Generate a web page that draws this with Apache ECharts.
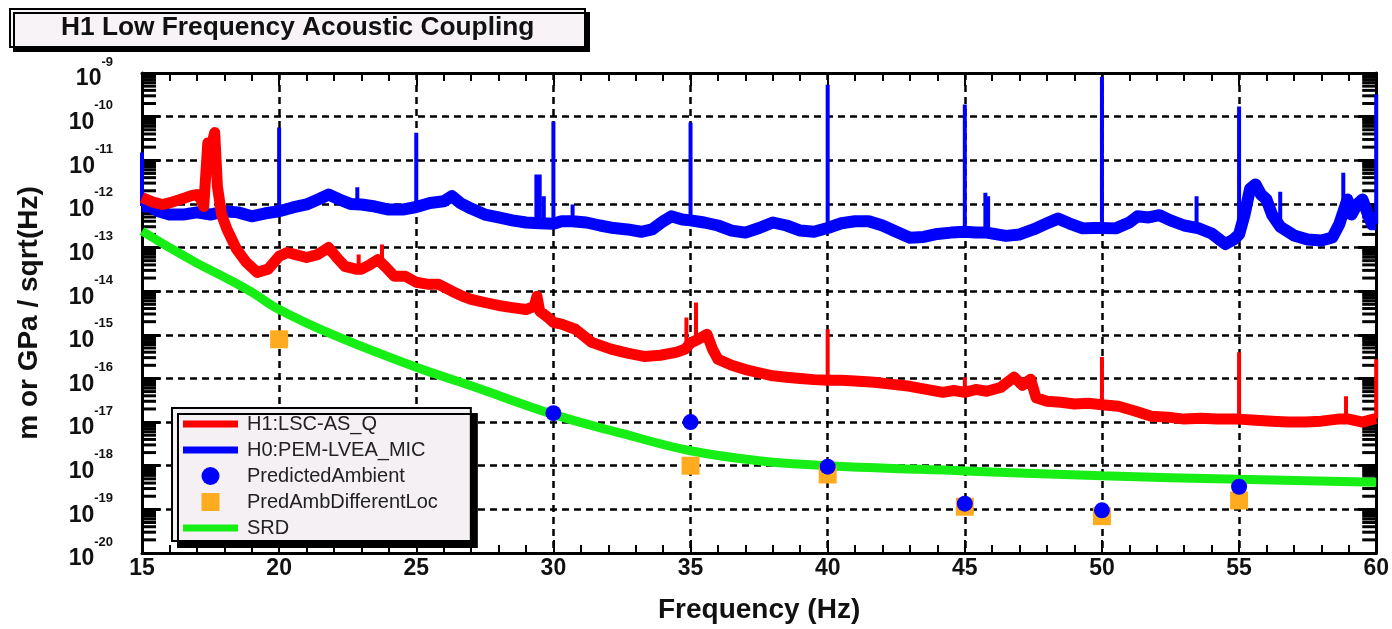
<!DOCTYPE html>
<html>
<head>
<meta charset="utf-8">
<script src="https://cdn.jsdelivr.net/npm/echarts@6/dist/echarts.min.js"></script>
<style>
  html, body { margin: 0; padding: 0; background: #ffffff; }
  #chart { width: 1392px; height: 629px; }
</style>
</head>
<body>
<div id="chart"></div>
<script>
// Frequency range (Hz) and x tick step
const freqMin = 15;
const freqMax = 60;
const freqStep = 5;

// Log axis range: decades from 1e-20 to 1e-9
const yDecades = [-20, -19, -18, -17, -16, -15, -14, -13, -12, -11, -10, -9];
const yMinorSteps = [2, 3, 4, 5, 6, 7, 8, 9];

// H0:PEM-LVEA_MIC microphone spectrum, broadband part [Hz, value]
const micBand = [
  [15.0, 9.0e-13], [15.3, 8.7e-13], [15.6, 6.8e-13], [16.0, 5.7e-13],
  [16.5, 5.7e-13], [17.0, 6.4e-13], [17.5, 5.7e-13], [18.0, 6.8e-13], [18.5, 6.4e-13],
  [19.0, 5.2e-13], [19.5, 6.1e-13], [20.0, 6.8e-13],
  [20.5, 8.3e-13], [21.0, 9.7e-13], [21.5, 1.33e-12], [21.8, 1.64e-12], [22.2, 1.26e-12],
  [22.6, 1.0e-12], [23.0, 9.7e-13], [23.5, 8.7e-13], [24.0, 7.4e-13],
  [24.5, 7.4e-13], [25.0, 8.5e-13], [25.5, 1.05e-12],
  [26.0, 1.15e-12], [26.3, 1.5e-12], [26.6, 1.05e-12], [27.0, 7.8e-13], [27.5, 5.7e-13],
  [28.0, 4.9e-13], [28.5, 4.2e-13], [29.0, 3.75e-13], [29.5, 3.6e-13], [30.0, 3.5e-13],
  [30.3, 4.0e-13], [30.7, 4.0e-13], [31.2, 3.75e-13], [31.7, 3.2e-13], [32.2, 2.8e-13],
  [32.7, 2.6e-13], [33.2, 2.3e-13], [33.6, 2.6e-13], [34.0, 4.0e-13], [34.3, 5.2e-13],
  [34.7, 4.4e-13], [35.0, 4.2e-13], [35.5, 3.75e-13], [36.0, 3.2e-13],
  [36.5, 2.45e-13], [37.0, 2.2e-13], [37.5, 2.8e-13], [38.0, 3.75e-13], [38.5, 3.2e-13],
  [39.0, 2.45e-13], [39.5, 2.3e-13], [40.0, 2.8e-13],
  [40.5, 3.6e-13], [41.0, 4.0e-13], [41.5, 4.0e-13], [42.0, 3.2e-13], [42.5, 2.3e-13],
  [43.0, 1.67e-13], [43.5, 1.75e-13], [44.0, 2.05e-13], [44.5, 2.2e-13], [45.0, 2.3e-13],
  [45.4, 2.2e-13], [45.8, 2.2e-13], [46.5, 1.85e-13], [47.0, 2.0e-13], [47.5, 2.6e-13],
  [48.0, 3.6e-13], [48.4, 4.6e-13], [48.8, 3.6e-13], [49.3, 2.75e-13], [49.7, 2.8e-13],
  [50.0, 2.8e-13], [50.5, 2.75e-13], [51.0, 3.75e-13],
  [51.3, 5.2e-13], [51.7, 4.9e-13], [52.1, 5.5e-13], [52.5, 4.2e-13], [53.0, 3.2e-13],
  [53.5, 2.8e-13], [54.0, 2.1e-13], [54.5, 1.2e-13],
  [54.8, 1.53e-13], [55.0, 2.0e-13], [55.2, 5.7e-13],
  [55.4, 2.2e-12], [55.6, 2.8e-12], [55.8, 1.64e-12], [56.0, 1.26e-12], [56.2, 5.7e-13],
  [56.5, 3.0e-13], [57.0, 1.9e-13], [57.5, 1.53e-13],
  [58.0, 1.45e-13], [58.4, 1.7e-13], [58.65, 3.4e-13], [58.95, 1.26e-12],
  [59.1, 5.7e-13], [59.3, 9.7e-13], [59.5, 1.26e-12], [59.7, 5.7e-13], [59.85, 3.4e-13],
  [60.0, 3.4e-13]
];

// H0:PEM-LVEA_MIC narrow lines [Hz, peak, base]
const micLines = [
  [15.0, 1.5e-11, 9.0e-13], [20.0, 5.6e-11, 6.8e-13], [22.85, 2.4e-12, 1.0e-12],
  [25.0, 4.3e-11, 8.5e-13], [29.38, 4.7e-12, 3.75e-13], [29.5, 4.7e-12, 3.6e-13],
  [29.65, 1.5e-12, 3.5e-13], [30.0, 7.7e-11, 3.5e-13], [30.7, 9.7e-13, 4.0e-13],
  [35.0, 7.3e-11, 4.2e-13], [40.0, 5.4e-10, 2.8e-13], [45.0, 1.9e-10, 2.3e-13],
  [45.75, 1.8e-12, 2.2e-13], [45.85, 1.5e-12, 2.2e-13], [50.0, 8.2e-10, 2.8e-13],
  [53.45, 1.5e-12, 2.8e-13], [55.0, 1.7e-10, 2.0e-13], [56.5, 1.9e-12, 3.0e-13],
  [58.8, 5.2e-12, 3.4e-13], [60.0, 3.2e-10, 3.4e-13]
];

// H1:LSC-AS_Q strain channel spectrum, broadband part [Hz, value]
const asqBand = [
  [15.0, 1.4e-12], [15.4, 1.1e-12], [15.75, 9.7e-13], [16.1, 1.1e-12], [16.4, 1.26e-12],
  [16.8, 1.55e-12], [17.0, 1.64e-12], [17.15, 1.26e-12], [17.25, 8.7e-13], [17.4, 2.5e-11],
  [17.5, 1.75e-11], [17.65, 4.3e-11], [17.75, 2.5e-12], [17.9, 5.7e-13], [18.1, 2.6e-13],
  [18.45, 9.1e-14], [18.8, 4.6e-14], [19.2, 2.7e-14], [19.6, 3.2e-14], [20.0, 6.3e-14],
  [20.3, 7.7e-14], [20.6, 6.9e-14], [21.0, 5.9e-14], [21.4, 6.9e-14], [21.8, 1.0e-13],
  [22.1, 5.9e-14], [22.4, 3.7e-14], [22.8, 3.2e-14], [23.0, 3.2e-14],
  [23.3, 4.0e-14], [23.6, 5.3e-14], [23.9, 3.5e-14], [24.2, 2.2e-14],
  [24.6, 2.2e-14], [25.0, 1.6e-14], [25.4, 1.45e-14], [25.8, 1.45e-14], [26.3, 1.0e-14],
  [26.7, 7.6e-15], [27.0, 6.5e-15], [27.5, 5.5e-15], [28.0, 4.7e-15], [28.5, 4.2e-15],
  [29.0, 3.8e-15], [29.3, 4.5e-15], [29.4, 7.6e-15], [29.5, 3.5e-15], [29.8, 2.5e-15],
  [30.0, 1.93e-15], [30.3, 1.75e-15], [30.8, 1.34e-15], [31.4, 6.7e-16], [32.1, 4.7e-16],
  [32.7, 3.8e-16], [33.3, 3.2e-16], [33.9, 3.4e-16], [34.5, 4.0e-16], [34.8, 4.7e-16],
  [35.0, 6.5e-16], [35.3, 8.0e-16], [35.6, 1.03e-15], [35.8, 4.7e-16], [36.0, 2.75e-16],
  [36.5, 2.0e-16], [37.0, 1.6e-16], [37.5, 1.35e-16], [38.0, 1.15e-16], [38.5, 1.07e-16],
  [39.0, 1.0e-16], [39.5, 9.4e-17], [40.0, 9.1e-17], [40.5, 9.1e-17],
  [41.0, 8.7e-17], [41.7, 8.2e-17], [42.3, 7.4e-17], [43.0, 6.6e-17], [43.6, 5.6e-17],
  [44.2, 4.8e-17], [44.6, 5.3e-17], [45.0, 4.8e-17],
  [45.4, 5.6e-17], [45.8, 5.1e-17], [46.3, 6.2e-17], [46.8, 1.07e-16], [47.1, 7.0e-17],
  [47.4, 9.6e-17], [47.6, 3.6e-17], [48.0, 3.0e-17], [48.5, 2.85e-17], [49.0, 2.6e-17],
  [49.5, 2.7e-17], [50.0, 2.5e-17], [50.6, 2.3e-17],
  [51.2, 1.8e-17], [51.8, 1.36e-17], [52.4, 1.3e-17], [53.0, 1.17e-17], [53.6, 1.22e-17],
  [54.2, 1.17e-17], [55.0, 1.17e-17], [55.6, 1.1e-17],
  [56.2, 1.05e-17], [56.8, 1.0e-17], [57.4, 1.0e-17], [58.0, 1.05e-17], [58.6, 1.17e-17],
  [59.0, 1.17e-17], [59.5, 1.0e-17], [59.9, 1.17e-17], [60.0, 1.2e-17]
];

// H1:LSC-AS_Q narrow lines [Hz, peak, base]
const asqLines = [
  [22.9, 6.9e-14, 3.3e-14], [23.75, 1.18e-13, 4.5e-14], [34.85, 2.5e-15, 4.5e-16],
  [35.2, 5.5e-15, 7.5e-16], [40.0, 1.34e-15, 9.1e-17], [45.0, 1.07e-16, 4.8e-17],
  [50.0, 3.1e-16, 2.5e-17], [55.0, 4.0e-16, 1.17e-17], [58.9, 3.9e-17, 1.1e-17],
  [60.0, 2.75e-16, 1.2e-17]
];

// SRD sensitivity curve [Hz, value]
const srdCurve = [
  [15, 2.4e-13], [16, 1.0e-13], [17, 4.4e-14], [18, 2.1e-14], [19, 9.5e-15],
  [20, 3.8e-15], [22, 9.8e-16], [25, 1.8e-16], [27, 6.8e-17], [30, 1.5e-17],
  [32.5, 5.5e-18], [35, 2.2e-18], [37.5, 1.3e-18], [40, 1.0e-18], [45, 7.6e-19],
  [50, 5.9e-19], [55, 4.9e-19], [60, 4.2e-19]
];

// Predicted ambient coupling [Hz, value]
const predictedAmbient = [
  [30, 1.6e-17], [35, 1.0e-17], [40, 9.5e-19], [45, 1.35e-19], [50, 9.5e-20], [55, 3.3e-19]
];

// Prediction from a different microphone location [Hz, value]
const predAmbDifferentLoc = [
  [20, 7.9e-16], [35, 1.0e-18], [40, 6.3e-19], [45, 1.15e-19], [50, 7.0e-20], [55, 1.6e-19]
];

// Each narrow line becomes a vertical stroke from base to peak; null breaks the polyline
function linesToPolyline(lines) {
  const out = [];
  lines.forEach(function (l) {
    out.push([l[0], l[2]], [l[0], l[1]], null);
  });
  return out;
}

// Minor tick values on the log axis (2..9 within each decade)
const yMinorTicks = [];
yDecades.slice(0, -1).forEach(function (d) {
  yMinorSteps.forEach(function (m) { yMinorTicks.push([freqMin, m * Math.pow(10, d)]); });
});

const FONT = 'Liberation Sans, Arial, Helvetica, sans-serif';
const INK = '#111111';
const RED = '#ff0000';
const BLUE = '#0000ff';
const GREEN = '#16ee16';
const ORANGE = '#ffab1f';

const chart = echarts.init(document.getElementById('chart'), null, { renderer: 'canvas' });

const frameLine = { show: true, onZero: false, lineStyle: { color: '#000', width: 3 } };
const gridDash = { show: true, lineStyle: { color: '#000', width: 2.5, type: [7, 5] } };

const option = {
  animation: false,
  backgroundColor: '#ffffff',
  title: {
    text: 'H1 Low Frequency Acoustic Coupling',
    left: 10, top: 9,
    padding: [6, 51, 6, 51],
    backgroundColor: '#f7f3f7',
    borderColor: '#000', borderWidth: 2,
    shadowColor: '#000', shadowBlur: 0, shadowOffsetX: 4, shadowOffsetY: 4,
    textStyle: { fontFamily: FONT, fontSize: 26.3, fontWeight: 'bold', color: INK }
  },
  legend: {
    orient: 'vertical',
    left: 172, top: 408,
    padding: [6, 33, 3, 11],
    itemGap: 6,
    itemWidth: 55, itemHeight: 18,
    backgroundColor: '#f4f0f4',
    borderColor: '#000', borderWidth: 2,
    shadowColor: '#000', shadowBlur: 0, shadowOffsetX: 6, shadowOffsetY: 6,
    itemStyle: { borderWidth: 0, opacity: 1 },
    textStyle: { fontFamily: FONT, fontSize: 20, color: '#222', padding: [0, 0, 0, 4] },
    data: [
      { name: 'H1:LSC-AS_Q', icon: 'path://M0,0H55V7H0Z' },
      { name: 'H0:PEM-LVEA_MIC', icon: 'path://M0,0H55V7H0Z' },
      { name: 'PredictedAmbient', icon: 'circle' },
      { name: 'PredAmbDifferentLoc', icon: 'path://M0,0H10V10H0Z' },
      { name: 'SRD', icon: 'path://M0,0H55V7H0Z' }
    ]
  },
  grid: { left: 142, right: 11, top: 73, bottom: 75, containLabel: false },
  xAxis: [
    {
      type: 'value', position: 'bottom',
      min: freqMin, max: freqMax, interval: freqStep,
      name: 'Frequency (Hz)', nameLocation: 'middle', nameGap: 43,
      nameTextStyle: { fontFamily: FONT, fontSize: 28, fontWeight: 'bold', color: INK },
      axisLine: frameLine,
      axisTick: { show: true, inside: true, length: 13, lineStyle: { color: '#000', width: 2 } },
      minorTick: { show: true, splitNumber: 5, length: 8, lineStyle: { color: '#000', width: 2 } },
      axisLabel: { margin: 4, fontFamily: FONT, fontSize: 23, fontWeight: 'bold', color: INK },
      splitLine: gridDash
    },
    {
      type: 'value', position: 'top',
      min: freqMin, max: freqMax, interval: freqStep,
      axisLine: frameLine,
      axisTick: { show: true, inside: true, length: 13, lineStyle: { color: '#000', width: 2 } },
      minorTick: { show: true, splitNumber: 5, length: 8, lineStyle: { color: '#000', width: 2 } },
      axisLabel: { show: false },
      splitLine: { show: false }
    }
  ],
  yAxis: [
    {
      type: 'log', logBase: 10, position: 'left',
      min: 1e-20, max: 1e-9, interval: 1, splitNumber: 11,
      name: 'm or GPa / sqrt(Hz)', nameLocation: 'middle', nameGap: 99,
      nameTextStyle: { fontFamily: FONT, fontSize: 28, fontWeight: 'bold', color: INK },
      axisLine: frameLine,
      axisTick: { show: true, inside: true, length: 18, lineStyle: { color: '#000', width: 3 } },
      axisLabel: {
        margin: 29, interval: 0, hideOverlap: false,
        formatter: function (v) {
          const e = Math.round(Math.log10(v));
          return '{b|10}{e|' + e + '}';
        },
        rich: {
          b: { fontFamily: FONT, fontSize: 23, fontWeight: 'bold', color: INK, padding: [12, 0, 0, 0], verticalAlign: 'bottom' },
          e: { fontFamily: FONT, fontSize: 13, fontWeight: 'bold', color: INK, verticalAlign: 'top' }
        }
      },
      splitLine: gridDash
    },
    {
      type: 'log', logBase: 10, position: 'right',
      min: 1e-20, max: 1e-9, interval: 1, splitNumber: 11,
      axisLine: frameLine,
      axisTick: { show: true, inside: true, length: 18, lineStyle: { color: '#000', width: 3 } },
      axisLabel: { show: false },
      splitLine: { show: false }
    }
  ],
  series: [
    {
      name: 'H0:PEM-LVEA_MIC', type: 'line', data: micBand,
      showSymbol: false, symbol: 'none', color: BLUE,
      lineStyle: { width: 12, color: BLUE, join: 'round' },
      z: 3, silent: true
    },
    {
      name: 'H0:PEM-LVEA_MIC', type: 'line', data: linesToPolyline(micLines),
      showSymbol: false, symbol: 'none', color: BLUE, connectNulls: false,
      lineStyle: { width: 4, color: BLUE, cap: 'butt' },
      z: 3, silent: true
    },
    {
      name: 'H1:LSC-AS_Q', type: 'line', data: asqBand,
      showSymbol: false, symbol: 'none', color: RED,
      lineStyle: { width: 11, color: RED, join: 'round' },
      z: 4, silent: true
    },
    {
      name: 'H1:LSC-AS_Q', type: 'line', data: linesToPolyline(asqLines),
      showSymbol: false, symbol: 'none', color: RED, connectNulls: false,
      lineStyle: { width: 4, color: RED, cap: 'butt' },
      z: 4, silent: true
    },
    {
      name: 'SRD', type: 'line', data: srdCurve, smooth: 0.4,
      showSymbol: false, symbol: 'none', color: GREEN,
      lineStyle: { width: 9, color: GREEN },
      z: 5, silent: true
    },
    {
      name: 'PredAmbDifferentLoc', type: 'scatter', data: predAmbDifferentLoc,
      symbol: 'rect', symbolSize: 18, color: ORANGE,
      itemStyle: { color: ORANGE, opacity: 1 },
      z: 6, silent: true
    },
    {
      name: 'PredictedAmbient', type: 'scatter', data: predictedAmbient,
      symbol: 'circle', symbolSize: 16, color: BLUE,
      itemStyle: { color: BLUE, opacity: 1 },
      z: 7, silent: true
    },
    {
      // minor log ticks on the left and right frame edges
      name: 'minorTicks', type: 'custom', data: yMinorTicks,
      clip: false, silent: true, z: 1,
      renderItem: function (params, api) {
        const v = api.value(1);
        const l = api.coord([freqMin, v]);
        const r = api.coord([freqMax, v]);
        return {
          type: 'group',
          children: [
            { type: 'line', shape: { x1: l[0], y1: l[1], x2: l[0] + 14, y2: l[1] }, style: { stroke: '#000', lineWidth: 3 } },
            { type: 'line', shape: { x1: r[0] - 14, y1: r[1], x2: r[0], y2: r[1] }, style: { stroke: '#000', lineWidth: 3 } }
          ]
        };
      }
    }
  ]
};

chart.setOption(option);
</script>
</body>
</html>
